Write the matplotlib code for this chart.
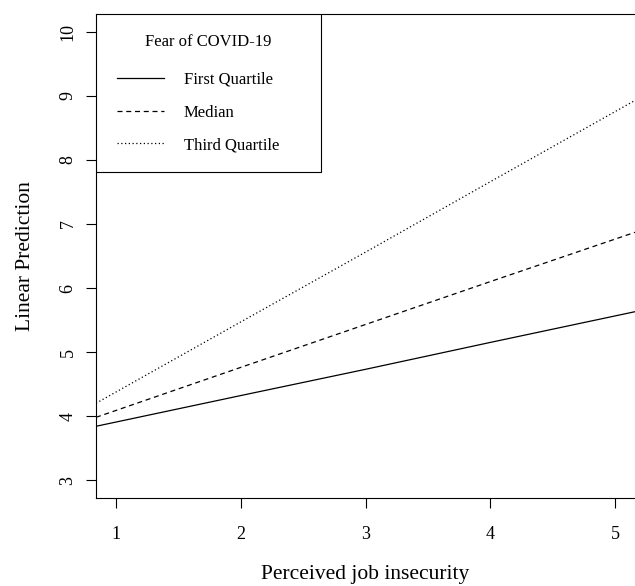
import matplotlib
matplotlib.use("Agg")
import matplotlib.pyplot as plt
from matplotlib.patches import Rectangle

plt.rcParams["font.family"] = ["Liberation Serif", "DejaVu Serif"]

# readings taken along each line (x = perceived job insecurity)
job_insecurity = [0.84, 2, 3, 4, 5.16]
first_quartile = [3.84, 4.32, 4.73, 5.15, 5.63]
median = [3.98, 4.76, 5.43, 6.10, 6.87]
third_quartile = [4.20, 5.47, 6.56, 7.66, 8.93]

labels = ["First Quartile", "Median", "Third Quartile"]
legend_title = "Fear of COVID-19"
x_ticks = [1, 2, 3, 4, 5]
y_ticks = [3, 4, 5, 6, 7, 8, 9, 10]

W, H = 635, 586
fig = plt.figure(figsize=(W / 100, H / 100), dpi=100)
ax = fig.add_axes([96 / W, 88 / H, 539 / W, 484 / H])

ax.plot(job_insecurity, first_quartile, color="black", lw=0.9, linestyle="-", label=labels[0])
ax.plot(job_insecurity, median, color="black", lw=0.9, linestyle=(0, (4, 3)), label=labels[1])
ax.plot(job_insecurity, third_quartile, color="black", lw=0.9, linestyle=(0, (1, 2)), label=labels[2])

ax.set_xlim(0.84, 5.16)
ax.set_ylim(2.72, 10.28)
ax.set_xticks(x_ticks)
ax.set_yticks(y_ticks)
ax.tick_params(direction="out", length=7, width=0.8, labelsize=13)
ax.tick_params(axis="x", pad=13)
ax.tick_params(axis="y", pad=7)
for lab in ax.get_yticklabels():
    lab.set_rotation(90)
    lab.set_va("center")
ax.spines["right"].set_visible(False)
for s in ["left", "bottom", "top"]:
    ax.spines[s].set_linewidth(0.8)

ax.set_xlabel("Perceived job insecurity", fontsize=15.5, labelpad=16)
ax.set_ylabel("Linear Prediction", fontsize=15.5, labelpad=18)

# legend box drawn by hand so its padding matches the R-style legend
ax.add_patch(Rectangle((0, 1 - 158 / 484), 225 / 539, 158 / 484, transform=ax.transAxes,
                       facecolor="white", edgecolor="black", lw=0.8, zorder=3))
ax.text((208 - 96) / 539, 1 - (42 - 14) / 484, legend_title, transform=ax.transAxes,
        ha="center", va="center", fontsize=12, zorder=4)
leg = ax.legend(loc="upper left", bbox_to_anchor=((117 - 96) / 539, 1 - (72 - 14) / 484),
                borderaxespad=0, borderpad=0, frameon=False, fontsize=12,
                handlelength=2.8, handletextpad=1.2, labelspacing=1.0)
leg.set_zorder(5)

fig.savefig("out.png", dpi=100)
